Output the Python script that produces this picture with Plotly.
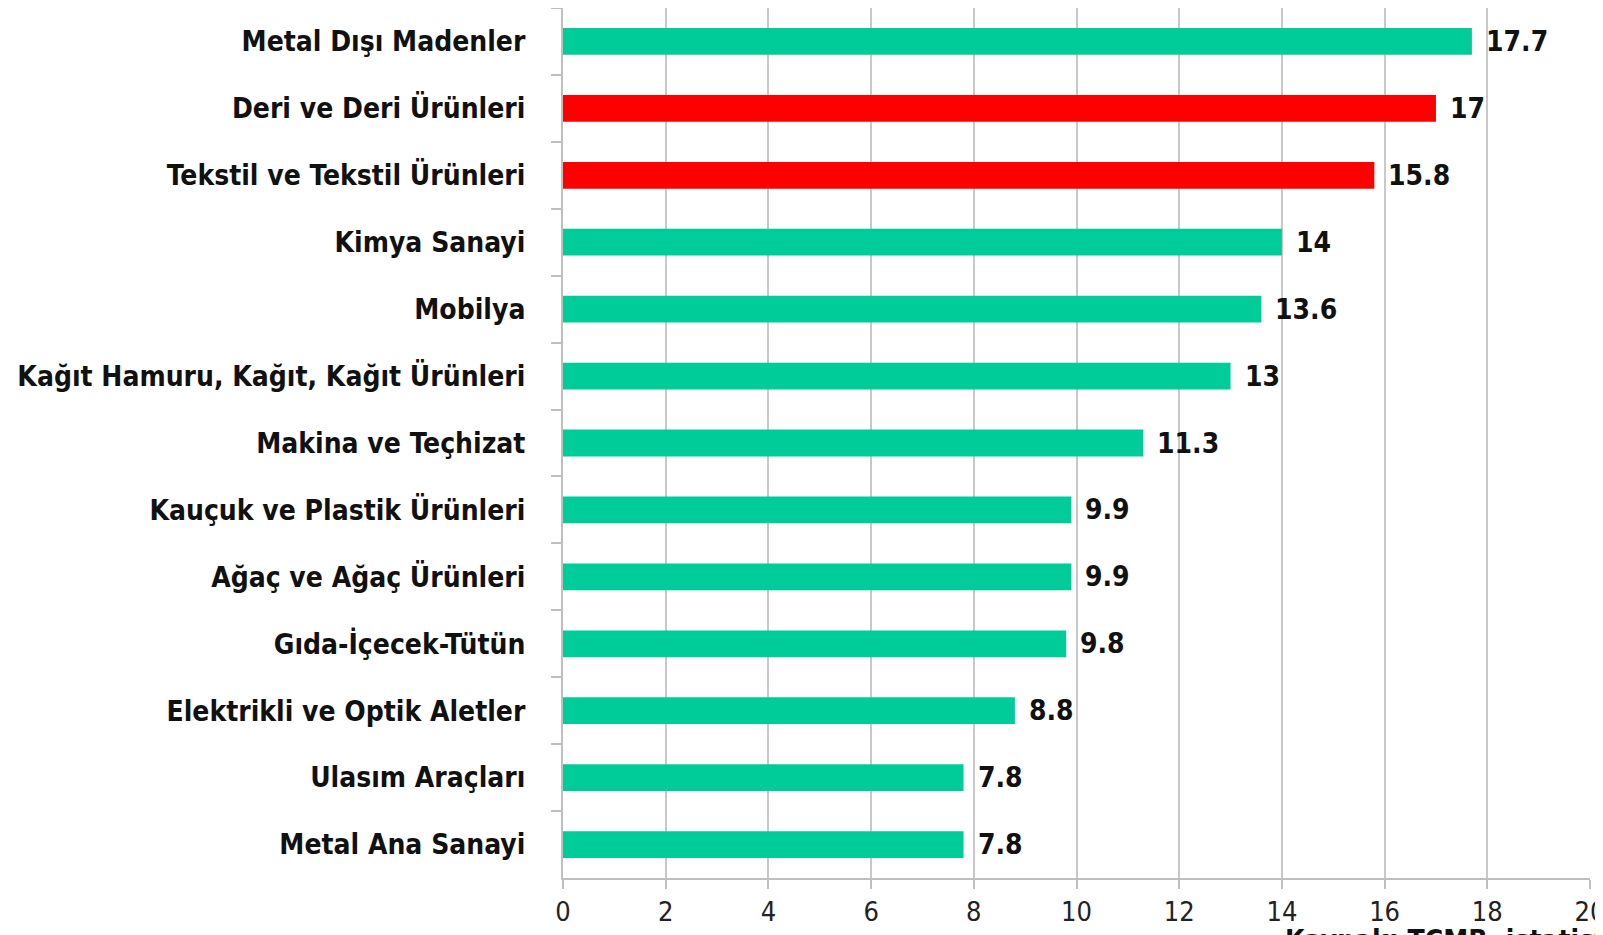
import plotly.graph_objects as go

categories = [
    "Metal Dışı Madenler",
    "Deri ve Deri Ürünleri",
    "Tekstil ve Tekstil Ürünleri",
    "Kimya Sanayi",
    "Mobilya",
    "Kağıt Hamuru, Kağıt, Kağıt Ürünleri",
    "Makina ve Teçhizat",
    "Kauçuk ve Plastik Ürünleri",
    "Ağaç ve Ağaç Ürünleri",
    "Gıda-İçecek-Tütün",
    "Elektrikli ve Optik Aletler",
    "Ulasım Araçları",
    "Metal Ana Sanayi",
]
values = [17.7, 17, 15.8, 14, 13.6, 13, 11.3, 9.9, 9.9, 9.8, 8.8, 7.8, 7.8]
highlighted = ["Deri ve Deri Ürünleri", "Tekstil ve Tekstil Ürünleri"]
x_ticks = [0, 2, 4, 6, 8, 10, 12, 14, 16, 18, 20]
source_text = "Kaynak: TCMB, istatistik"

GREEN = "#00CC99"
RED = "#FF0000"
colors = [RED if c in highlighted else GREEN for c in categories]

FONT = "DejaVu Sans Condensed, DejaVu Sans, sans-serif"

# page body has an 8px default margin; figure coordinates are offset by it
W, H = 1603, 935
OFF = 8
PL, PR, PT, PB = 563 - OFF, 1590 - OFF, 0, 878 - OFF

fig = go.Figure()
fig.add_trace(go.Bar(
    y=categories,
    x=values,
    orientation="h",
    marker=dict(color=colors, line=dict(width=0)),
    hoverinfo="x+y",
))

for c, v in zip(categories, values):
    fig.add_annotation(
        x=v, y=c, xref="x", yref="y",
        text=f"{v:g}", showarrow=False,
        xanchor="left", xshift=12,
        font=dict(family=FONT, size=28, color="#111111", weight="bold"),
    )

fig.add_annotation(
    x=(1283 - OFF - PL) / (PR - PL), y=(PB - (922 - OFF)) / (PB - PT),
    xref="paper", yref="paper",
    text=source_text, showarrow=False, xanchor="left", yanchor="top",
    font=dict(family=FONT, size=28, color="#111111", weight="bold"),
)

fig.update_layout(
    width=W, height=H,
    margin=dict(l=PL, r=W - PR, t=PT, b=H - PB, autoexpand=False),
    paper_bgcolor="white", plot_bgcolor="white",
    bargap=0.6,
    showlegend=False,
    font=dict(family=FONT),
)
fig.update_xaxes(
    range=[0, 20], tickvals=x_ticks,
    showgrid=True, gridcolor="#C8C8C8", gridwidth=2,
    showline=True, linecolor="#BFBFBF", linewidth=2,
    ticks="outside", ticklen=9, tickcolor="#BFBFBF", tickwidth=2,
    tickfont=dict(family=FONT, size=27, color="#222222"),
    zeroline=False, automargin=False,
)
fig.update_yaxes(
    autorange="reversed",
    showline=True, linecolor="#BFBFBF", linewidth=2,
    ticks="outside", tickson="boundaries", ticklen=10, tickcolor="#BFBFBF", tickwidth=2,
    tickfont=dict(family=FONT, size=28, color="#111111", weight="bold"),
    ticklabelstandoff=30,
    showgrid=False, automargin=False,
)

fig.write_html("out.html")
